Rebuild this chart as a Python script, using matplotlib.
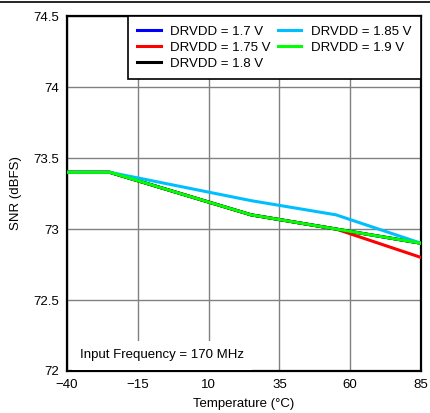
import numpy as np
import matplotlib.pyplot as plt
from matplotlib.lines import Line2D

plt.rcParams['font.family'] = ['Liberation Sans', 'DejaVu Sans']

temp = [-40, -25, 25, 55, 85]
snr_170 = [73.4, 73.4, 73.1, 73.0, 72.9]
snr_175 = [73.4, 73.4, 73.1, 73.0, 72.8]
snr_180 = [73.4, 73.4, 73.1, 73.0, 72.9]
snr_185 = [73.4, 73.4, 73.2, 73.1, 72.9]
snr_190 = [73.4, 73.4, 73.1, 73.0, 72.9]

labels = ['DRVDD = 1.7 V', 'DRVDD = 1.75 V', 'DRVDD = 1.8 V',
          'DRVDD = 1.85 V', 'DRVDD = 1.9 V']
colors = ['#0000ff', '#ff0000', '#000000', '#00bfff', '#00ff00']
series = [snr_170, snr_175, snr_180, snr_185, snr_190]

fig = plt.figure(figsize=(4.3, 4.13), dpi=100)
ax = fig.add_axes([0.156, 0.1017, 0.823, 0.8593])

for s, lab, col in zip(series, labels, colors):
    ax.plot(temp, s, color=col, lw=2.2, label=lab, zorder=3)

ax.set_xlim(-40, 85)
ax.set_ylim(72, 74.5)
ax.set_xticks([-40, -15, 10, 35, 60, 85])
ax.set_yticks([72, 72.5, 73, 73.5, 74, 74.5])
ax.set_yticklabels(['72', '72.5', '73', '73.5', '74', '74.5'])
ax.tick_params(length=0, labelsize=9.5, pad=6, colors='black')
ax.grid(color='#808080', lw=1.0)
for sp in ax.spines.values():
    sp.set_linewidth(1.6)
    sp.set_color('black')

ax.set_xlabel('Temperature (°C)', fontsize=9.5, labelpad=5)
ax.set_ylabel('SNR (dBFS)', fontsize=9.5, labelpad=8)

leg = ax.legend(ncol=2, loc='upper right', fontsize=9.5, frameon=True,
                fancybox=False, framealpha=1, edgecolor='black',
                borderaxespad=0, borderpad=0.7, handlelength=1.8,
                columnspacing=0.5, labelspacing=0.3, handletextpad=0.75)
leg.get_frame().set_linewidth(1.2)
leg.set_zorder(5)

ax.text(-35.5, 72.09, 'Input Frequency = 170 MHz', fontsize=9.5, zorder=4,
        bbox=dict(facecolor='white', edgecolor='none', pad=6))

fig.add_artist(Line2D([0, 1], [0.995, 0.995], color='black', lw=1.2))

fig.savefig('out.png', dpi=100)
